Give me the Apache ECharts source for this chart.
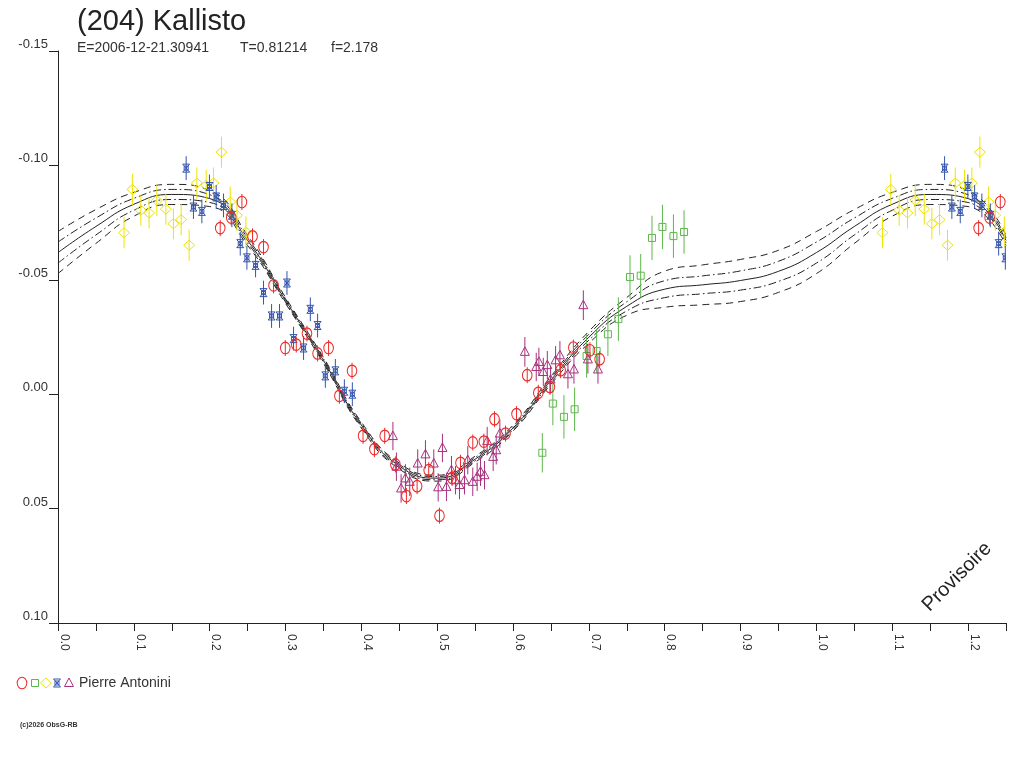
<!DOCTYPE html>
<html>
<head>
<meta charset="utf-8">
<script src="https://cdn.jsdelivr.net/npm/echarts@6/dist/echarts.min.js"></script>
<style>
  html, body { margin: 0; padding: 0; background: #fff; }
  #main { width: 1024px; height: 768px; }
</style>
</head>
<body>
<div id="main"></div>
<script>
// observations: [phase, relative magnitude, error]
var redObs = [
  [0.2425,-0.0840,0.0035],[0.2284,-0.0772,0.0035],[0.2139,-0.0726,0.0035],[0.2565,-0.0690,0.0035],
  [0.2710,-0.0643,0.0035],[0.2842,-0.0476,0.0035],[0.2997,-0.0202,0.0035],[0.3142,-0.0217,0.0035],
  [0.3283,-0.0265,0.0035],[0.3423,-0.0178,0.0035],[0.3568,-0.0202,0.0035],[0.3877,-0.0102,0.0035],
  [0.3710,0.0007,0.0035],[0.4022,0.0182,0.0035],[0.4308,0.0182,0.0035],[0.4172,0.0240,0.0035],
  [0.4449,0.0307,0.0035],[0.4735,0.0402,0.0035],[0.4594,0.0445,0.0035],[0.5030,0.0531,0.0035],
  [0.4888,0.0332,0.0035],[0.5197,0.0366,0.0035],[0.5307,0.0300,0.0035],[0.5469,0.0211,0.0035],
  [0.5615,0.0207,0.0035],[0.5756,0.0109,0.0035],[0.5901,0.0172,0.0035],[0.6046,0.0087,0.0035],
  [0.6187,-0.0083,0.0035],[0.6333,-0.0006,0.0035],[0.6486,-0.0032,0.0035],[0.6627,-0.0105,0.0035],
  [0.6795,-0.0204,0.0035],[0.7014,-0.0192,0.0035],[0.7142,-0.0153,0.0035]
];
var greenObs = [
  [0.6386,0.0256,0.0086],[0.6525,0.0041,0.0095],[0.6671,0.0099,0.0095],[0.6812,0.0066,0.0095],
  [0.6970,-0.0167,0.0095],[0.7102,-0.0189,0.0095],[0.7251,-0.0262,0.0095],[0.7389,-0.0328,0.0095],
  [0.7542,-0.0512,0.0095],[0.7683,-0.0518,0.0095],[0.7832,-0.0683,0.0097],[0.7970,-0.0731,0.0097],
  [0.8115,-0.0691,0.0095],[0.8255,-0.0709,0.0095]
];
var yellowObs = [
  [0.0981,-0.0895,0.0068],[0.0871,-0.0706,0.0068],[0.1092,-0.0804,0.0068],[0.1201,-0.0792,0.0068],
  [0.1303,-0.0847,0.0068],[0.1422,-0.0809,0.0068],[0.1522,-0.0745,0.0068],[0.1624,-0.0763,0.0068],
  [0.1729,-0.0651,0.0068],[0.1831,-0.0923,0.0068],[0.1954,-0.0913,0.0068],[0.2050,-0.0923,0.0068],
  [0.2156,-0.1058,0.0068],[0.2271,-0.0840,0.0068],[0.2359,-0.0782,0.0068],[0.2478,-0.0709,0.0068]
];
var blueObs = [
  [0.1690,-0.0988,0.0052],[0.1786,-0.0818,0.0052],[0.1897,-0.0799,0.0052],[0.1997,-0.0908,0.0052],
  [0.2086,-0.0862,0.0052],[0.2182,-0.0825,0.0052],[0.2293,-0.0782,0.0052],[0.2403,-0.0658,0.0052],
  [0.2491,-0.0596,0.0052],[0.2605,-0.0563,0.0052],[0.2710,-0.0444,0.0052],[0.3019,-0.0486,0.0052],
  [0.2816,-0.0342,0.0052],[0.2921,-0.0342,0.0052],[0.3327,-0.0371,0.0052],[0.3423,-0.0300,0.0052],
  [0.3106,-0.0243,0.0052],[0.3238,-0.0202,0.0052],[0.3525,-0.0080,0.0052],[0.3657,-0.0102,0.0052],
  [0.3776,-0.0013,0.0052],[0.3881,0.0000,0.0052]
];
var purpleObs = [
  [0.4416,0.0183,0.0062],[0.4462,0.0317,0.0062],[0.4524,0.0412,0.0062],[0.4581,0.0368,0.0062],
  [0.4638,0.0383,0.0062],[0.4743,0.0303,0.0062],[0.4845,0.0263,0.0062],[0.4955,0.0303,0.0062],
  [0.5069,0.0235,0.0062],[0.5013,0.0407,0.0062],[0.5122,0.0405,0.0062],[0.5188,0.0332,0.0062],
  [0.5241,0.0376,0.0062],[0.5294,0.0397,0.0062],[0.5360,0.0376,0.0062],[0.5403,0.0288,0.0062],
  [0.5469,0.0383,0.0062],[0.5527,0.0361,0.0062],[0.5571,0.0339,0.0062],[0.5624,0.0354,0.0062],
  [0.5659,0.0205,0.0062],[0.5738,0.0274,0.0062],[0.5778,0.0245,0.0062],[0.5826,0.0172,0.0062],
  [0.6156,-0.0185,0.0065],[0.6927,-0.0389,0.0065],[0.6306,-0.0119,0.0062],[0.6341,-0.0141,0.0062],
  [0.6399,-0.0097,0.0062],[0.6452,-0.0127,0.0062],[0.6561,-0.0148,0.0062],[0.6618,-0.0170,0.0062],
  [0.6495,-0.0064,0.0062],[0.6724,-0.0087,0.0062],[0.6803,-0.0108,0.0062],[0.6987,-0.0152,0.0062],
  [0.7120,-0.0108,0.0062]
];

// fitted curve and its envelopes, sampled every 0.05 in phase (0 .. 1)
var fitPhase = [0,0.05,0.10,0.15,0.20,0.25,0.30,0.35,0.40,0.45,0.50,0.55,0.60,0.65,0.70,
                0.75,0.80,0.85,0.90,0.95,1.00,1.05,1.10,1.15,1.20,1.25];
var fitMid = [-0.0619,-0.0733,-0.0830,-0.0873,-0.0855,-0.0672,-0.0410,-0.0148,0.0135,0.0314,0.0367,
              0.0284,0.0148,-0.0061,-0.0249,-0.0384,-0.0459,-0.0478,-0.0497,-0.0537,-0.0619];
var fitInnerUp = [-0.0665,-0.0770,-0.0856,-0.0895,-0.0872,-0.0683,-0.0417,-0.0155,0.0128,0.0307,0.0360,
                  0.0277,0.0141,-0.0070,-0.0262,-0.0404,-0.0496,-0.0517,-0.0539,-0.0581,-0.0665];
var fitInnerLow = [-0.0573,-0.0696,-0.0804,-0.0851,-0.0838,-0.0661,-0.0403,-0.0141,0.0142,0.0321,0.0374,
                   0.0291,0.0155,-0.0052,-0.0236,-0.0364,-0.0422,-0.0439,-0.0455,-0.0493,-0.0573];
var fitOuterUp = [-0.0711,-0.0807,-0.0882,-0.0917,-0.0890,-0.0694,-0.0423,-0.0161,0.0122,0.0301,0.0354,
                  0.0271,0.0135,-0.0078,-0.0275,-0.0423,-0.0538,-0.0565,-0.0589,-0.0629,-0.0711];
var fitOuterLow = [-0.0527,-0.0659,-0.0778,-0.0829,-0.0820,-0.0650,-0.0397,-0.0135,0.0148,0.0327,0.0380,
                   0.0297,0.0161,-0.0044,-0.0223,-0.0345,-0.0380,-0.0391,-0.0405,-0.0445,-0.0527];

var yTicks = [-0.15, -0.10, -0.05, 0.00, 0.05, 0.10];

var INK = '#222';
var FONT = '"Liberation Sans", Arial, sans-serif';

// phase is periodic: points/curve past 1.0 are the same as phase-1
function wrap(obs) {
  return obs.concat(obs.filter(function (p) { return p[0] < 0.26; })
    .map(function (p) { return [p[0] + 1, p[1], p[2]]; }));
}
function curve(vals) {
  return fitPhase.map(function (ph, i) { return [ph, vals[i <= 20 ? i : i - 20]]; });
}

function symbolEls(kind, x, y, color) {
  var st = { fill: 'none', stroke: color, lineWidth: 1 };
  if (kind === 'circle') {
    return [{ type: 'circle', x: x, y: y, scaleY: 1.2, shape: { cx: 0, cy: 0, r: 4.8 },
              style: { fill: 'none', stroke: color, lineWidth: 1, strokeNoScale: true } }];
  }
  if (kind === 'square') {
    return [{ type: 'rect', shape: { x: x - 3.5, y: y - 3.5, width: 7, height: 7 }, style: st }];
  }
  if (kind === 'diamond') {
    return [{ type: 'polygon', shape: { points: [[x, y - 5], [x + 5.5, y], [x, y + 5], [x - 5.5, y]] }, style: st }];
  }
  if (kind === 'triangle') {
    return [{ type: 'polygon', shape: { points: [[x, y - 5], [x + 4.5, y + 3.5], [x - 4.5, y + 3.5]] }, style: st }];
  }
  // blue: capped cross
  return [
    { type: 'line', shape: { x1: x - 3.5, y1: y - 4, x2: x + 3.5, y2: y - 4 }, style: st },
    { type: 'line', shape: { x1: x - 3.5, y1: y + 4, x2: x + 3.5, y2: y + 4 }, style: st },
    { type: 'line', shape: { x1: x - 3.5, y1: y - 4, x2: x + 3.5, y2: y + 4 }, style: st },
    { type: 'line', shape: { x1: x + 3.5, y1: y - 4, x2: x - 3.5, y2: y + 4 }, style: st },
    { type: 'rect', shape: { x: x - 2, y: y - 2, width: 4, height: 4 }, style: st }
  ];
}

function obsSeries(name, obs, kind, color) {
  return {
    type: 'custom',
    name: name,
    clip: true,
    z: 3,
    data: wrap(obs),
    renderItem: function (params, api) {
      var ph = api.value(0), m = api.value(1), e = api.value(2);
      var c = api.coord([ph, m]);
      var t = api.coord([ph, m - e]);
      var b = api.coord([ph, m + e]);
      var kids = [{ type: 'line', shape: { x1: c[0], y1: t[1], x2: c[0], y2: b[1] },
                    style: { stroke: color, lineWidth: 1 } }];
      return { type: 'group', children: kids.concat(symbolEls(kind, c[0], c[1], color)) };
    }
  };
}

function fitSeries(vals, dash) {
  return {
    type: 'line',
    data: curve(vals),
    smooth: 0.5,
    showSymbol: false,
    silent: true,
    z: 2,
    lineStyle: { color: INK, width: 1, type: dash }
  };
}

var COL = { red: '#ee2b2b', green: '#5cb84a', yellow: '#eee400', blue: '#3454ac', purple: '#a8307e' };

var myChart = echarts.init(document.getElementById('main'));
var option = {
  backgroundColor: '#fff',
  animation: false,
  textStyle: { fontFamily: FONT },
  grid: { left: 58, right: 18, top: 51, bottom: 145 },
  xAxis: {
    type: 'value',
    min: 0,
    max: 1.25,
    interval: 0.05,
    splitLine: { show: false },
    axisLine: { onZero: false, lineStyle: { color: INK, width: 1 } },
    axisTick: { show: true, length: 8, lineStyle: { color: INK } },
    axisLabel: {
      rotate: -90,
      margin: 11,
      verticalAlign: 'bottom',
      color: '#333',
      fontSize: 12,
      fontFamily: FONT,
      formatter: function (v) {
        var k = Math.round(v * 20);
        return k % 2 === 0 ? (k / 20).toFixed(1) : '';
      }
    }
  },
  yAxis: {
    type: 'value',
    inverse: true,
    min: yTicks[0],
    max: yTicks[yTicks.length - 1],
    interval: 0.05,
    splitLine: { show: false },
    axisLine: { onZero: false, lineStyle: { color: INK, width: 1 } },
    axisTick: { show: true, length: 9, lineStyle: { color: INK } },
    axisLabel: {
      margin: 10,
      verticalAlign: 'bottom',
      color: '#333',
      fontSize: 13,
      fontFamily: FONT,
      formatter: function (v) { return Math.abs(v) < 1e-9 ? '0.00' : v.toFixed(2); }
    }
  },
  graphic: [
    { type: 'text', left: 77, top: 7, style: { text: '(204) Kallisto', fontSize: 29, fontFamily: FONT, fill: INK } },
    { type: 'text', left: 77, top: 41, style: { text: 'E=2006-12-21.30941', fontSize: 14, fontFamily: FONT, fill: '#333' } },
    { type: 'text', left: 240, top: 41, style: { text: 'T=0.81214', fontSize: 14, fontFamily: FONT, fill: '#333' } },
    { type: 'text', left: 331, top: 41, style: { text: 'f=2.178', fontSize: 14, fontFamily: FONT, fill: '#333' } },
    { type: 'text', x: 957, y: 577, rotation: Math.PI / 4,
      style: { text: 'Provisoire', fontSize: 20, fontFamily: FONT, fill: INK, align: 'center', verticalAlign: 'middle' } },
    { type: 'group', children:
        symbolEls('circle', 22, 683, COL.red)
          .concat(symbolEls('square', 35, 683, COL.green))
          .concat(symbolEls('diamond', 46, 683, COL.yellow))
          .concat(symbolEls('star', 57, 683, COL.blue))
          .concat(symbolEls('triangle', 69, 683, COL.purple))
    },
    { type: 'text', x: 79, y: 683, style: { text: 'Pierre Antonini', fontSize: 14, fontFamily: FONT, fill: '#333', verticalAlign: 'middle' } },
    { type: 'text', x: 20, y: 725, style: { text: '(c)2026 ObsG-RB', fontSize: 7, fontWeight: 'bold', fontFamily: FONT, fill: '#333', verticalAlign: 'middle' } }
  ],
  series: [
    fitSeries(fitOuterUp, [7, 5]),
    fitSeries(fitInnerUp, [8, 3, 1.5, 3]),
    fitSeries(fitMid, 'solid'),
    fitSeries(fitInnerLow, [8, 3, 1.5, 3]),
    fitSeries(fitOuterLow, [7, 5]),
    obsSeries('green', greenObs, 'square', COL.green),
    obsSeries('yellow', yellowObs, 'diamond', COL.yellow),
    obsSeries('blue', blueObs, 'star', COL.blue),
    obsSeries('purple', purpleObs, 'triangle', COL.purple),
    obsSeries('red', redObs, 'circle', COL.red)
  ]
};
myChart.setOption(option);
window.onresize = myChart.resize;
</script>
</body>
</html>
